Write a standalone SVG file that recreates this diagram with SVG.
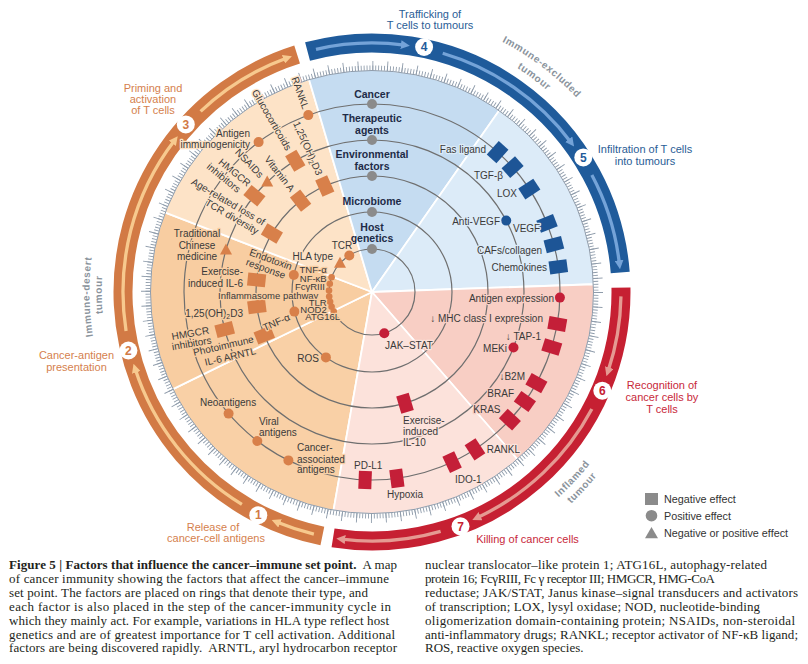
<svg xmlns="http://www.w3.org/2000/svg" width="808" height="664" viewBox="0 0 808 664">
<style>
text{font-family:"Liberation Sans",Arial,sans-serif}
.lb{font-size:10px;fill:#3a3a3a;paint-order:stroke;stroke-width:2.6;stroke-linejoin:round}
.sm{font-size:9.5px}
.k1{stroke:#f9d0a6}.k2{stroke:#f8cda1}.k3{stroke:#fde3c7}.k5{stroke:#dcebf8}.k6{stroke:#f8cec4}.k7{stroke:#fce2db}
.e{text-anchor:end}.m{text-anchor:middle}
.cat{font-size:10.5px;font-weight:bold;fill:#1e2b47;text-anchor:middle}
.ring{fill:none;stroke:#6f6f6f;stroke-width:1.2}
.o{fill:#d8804a}.bl{fill:#1d5596}.rd{fill:#c41f38}.gy{fill:#8b8b8b}
.sep{stroke:#fff;stroke-width:1.8;stroke-linejoin:round}
.band{fill:none;stroke-width:19}
.arw{fill:none;stroke-width:3.3}
.num{font-size:12px;font-weight:bold;text-anchor:middle}
.out{font-size:11px;text-anchor:middle}
.tum{font-size:10px;font-weight:bold;fill:#8a939c;letter-spacing:0.6px;text-anchor:middle}
#caption text{font-family:"Liberation Serif","Times New Roman",serif;font-size:13px;fill:#231f20}
.lg{font-size:10.8px;fill:#333}
</style>
<defs>
<rect id="sq" x="-6.5" y="-9" width="13" height="18"/>
<circle id="dt" r="5"/>
<circle id="sd" r="3.3"/>
<path id="tr" d="M0,-6.5L6,4.5L-6,4.5Z"/>
<marker id="ao" viewBox="0 0 10 10" refX="4" refY="5" markerWidth="9" markerHeight="9" markerUnits="userSpaceOnUse" orient="auto"><path d="M0,0L10,5L0,10z" fill="#f7c98e"/></marker>
<marker id="ab" viewBox="0 0 10 10" refX="4" refY="5" markerWidth="9" markerHeight="9" markerUnits="userSpaceOnUse" orient="auto"><path d="M0,0L10,5L0,10z" fill="#74a3d8"/></marker>
<marker id="ar" viewBox="0 0 10 10" refX="4" refY="5" markerWidth="9" markerHeight="9" markerUnits="userSpaceOnUse" orient="auto"><path d="M0,0L10,5L0,10z" fill="#e59a92"/></marker>
<path id="pie1" d="M454.55,22.32A282,282 0 0 1 608.51,138.41"/>
<path id="pie2" d="M450.06,36.67A267,267 0 0 1 595.92,146.58"/>
<path id="pin1" d="M497.98,539.26A277.5,277.5 0 0 0 627.44,400.43"/>
<path id="pin2" d="M503.89,550.84A290.5,290.5 0 0 0 639.40,405.51"/>
<path id="pid1" d="M108.26,393.24A282.5,282.5 0 0 1 104.89,200.03"/>
<path id="pid2" d="M119.08,387.07A270.2,270.2 0 0 1 117.14,202.25"/>
</defs>

<g id="sectors" class="sep">
<path fill="#f9d0a6" d="M372,292L333.45,510.63A222,222 0 0 1 172.47,389.32Z"/>
<path fill="#f8cda1" d="M372,292L172.47,389.32A222,222 0 0 1 164.75,212.44Z"/>
<path fill="#fde3c7" d="M372,292L164.75,212.44A222,222 0 0 1 308.95,79.14Z"/>
<path fill="#c5dcf1" d="M372,292L308.95,79.14A222,222 0 0 1 499.33,110.15Z"/>
<path fill="#dcebf8" d="M372,292L499.33,110.15A222,222 0 0 1 593.86,284.25Z"/>
<path fill="#f8cec4" d="M372,292L593.86,284.25A222,222 0 0 1 517.65,459.55Z"/>
<path fill="#fce2db" d="M372,292L517.65,459.55A222,222 0 0 1 333.45,510.63Z"/>
</g>

<g id="ticks" fill="none" stroke="#8f9cab">
<circle cx="372" cy="292" r="221.5" stroke-width="1"/>
<circle cx="372" cy="292" r="224" stroke-width="5" stroke-dasharray="0.9 2.0321"/>
<circle cx="372" cy="292" r="226.25" stroke-width="9.5" stroke-dasharray="0.9 13.908"/>
</g>

<g id="bands">
<path class="band" stroke="#d27a45" d="M322.36,536A249,249 0 0 1 297.12,54.52"/>
<path class="band" stroke="#1f5b9b" d="M307.55,51.48A249,249 0 0 1 620.23,272.46"/>
<path class="band" stroke="#c62032" d="M620.96,287.65A249,249 0 0 1 333.05,537.93"/>
<g class="arw" stroke="#f7c98e" marker-end="url(#ao)">
<path d="M313.87,534.12A249,249 0 0 1 276.71,522.05"/>
<path d="M241.9,504.31A249,249 0 0 1 135.19,368.95"/>
<path d="M126.07,330.95A249,249 0 0 1 174.46,140.42"/>
<path d="M200.6,111.38A249,249 0 0 1 286.84,58.02"/>
</g>
<g class="arw" stroke="#74a3d8" marker-end="url(#ab)">
<path d="M315.99,49.38A249,249 0 0 1 404.5,45.13"/>
<path d="M442.72,53.25A249,249 0 0 1 570.86,142.15"/>
<path d="M591.85,175.1A249,249 0 0 1 619.4,263.81"/>
</g>
<g class="arw" stroke="#e59a92" marker-end="url(#ar)">
<path d="M620.96,296.35A249,249 0 0 1 608.13,371.01"/>
<path d="M591.85,408.9A249,249 0 0 1 477.23,517.67"/>
<path d="M440.63,531.35A249,249 0 0 1 341.65,539.14"/>
</g>
</g>

<g id="connectors" class="ring">
<circle cx="372" cy="292" r="43"/>
<circle cx="372" cy="292" r="80"/>
<circle cx="372" cy="292" r="116"/>
<circle cx="372" cy="292" r="152"/>
<circle cx="372" cy="292" r="188"/>
</g>

<g id="steps">
<g id="step1"><circle cx="258.3" cy="515.2" r="9" fill="#fff"/><text class="num" x="258.3" y="519.4" fill="#d27a45">1</text>
<text class="out" fill="#d57f4e"><tspan x="213" y="530.5">Release of</tspan><tspan x="216" y="541.5">cancer-cell antigens</tspan></text></g>
<g id="step2"><circle cx="128.4" cy="350.5" r="9" fill="#fff"/><text class="num" x="128.4" y="354.7" fill="#d27a45">2</text>
<text class="out" fill="#d57f4e"><tspan x="76.5" y="359">Cancer-antigen</tspan><tspan x="76.5" y="370.5">presentation</tspan></text></g>
<g id="step3"><circle cx="185.8" cy="124.4" r="9" fill="#fff"/><text class="num" x="185.8" y="128.6" fill="#d27a45">3</text>
<text class="out" fill="#d57f4e"><tspan x="153" y="92">Priming and</tspan><tspan x="153" y="102.8">activation</tspan><tspan x="153" y="113.6">of T cells</tspan></text></g>
<g id="step4"><circle cx="424.1" cy="47" r="9" fill="#fff"/><text class="num" x="424.1" y="51.2" fill="#1f5b9b">4</text>
<text class="out" fill="#2a5d96"><tspan x="430" y="18">Trafficking of</tspan><tspan x="430" y="29">T cells to tumours</tspan></text></g>
<g id="step5"><circle cx="583.3" cy="157.4" r="9" fill="#fff"/><text class="num" x="583.3" y="161.6" fill="#1f5b9b">5</text>
<text class="out" fill="#2a5d96"><tspan x="645" y="153">Infiltration of T cells</tspan><tspan x="645" y="164.5">into tumours</tspan></text></g>
<g id="step6"><circle cx="602.3" cy="390.7" r="9" fill="#fff"/><text class="num" x="602.3" y="394.9" fill="#c62032">6</text>
<text class="out" fill="#c8283a"><tspan x="662" y="388.5">Recognition of</tspan><tspan x="662" y="400.5">cancer cells by</tspan><tspan x="662" y="413">T cells</tspan></text></g>
<g id="step7"><circle cx="460.5" cy="526.3" r="9" fill="#fff"/><text class="num" x="460.5" y="530.5" fill="#c62032">7</text>
<text class="out" fill="#c8283a" x="527.5" y="543">Killing of cancer cells</text></g>
</g>

<g id="tumour-types">
<text class="tum"><textPath href="#pie1" startOffset="50%">Immune-excluded</textPath></text>
<text class="tum"><textPath href="#pie2" startOffset="50%">tumour</textPath></text>
<text class="tum"><textPath href="#pin1" startOffset="50%">Inflamed</textPath></text>
<text class="tum"><textPath href="#pin2" startOffset="50%">tumour</textPath></text>
<text class="tum"><textPath href="#pid1" startOffset="50%">Immune-desert</textPath></text>
<text class="tum"><textPath href="#pid2" startOffset="50%">tumour</textPath></text>
</g>

<g id="categories">
<g id="cat-cancer"><use href="#dt" class="gy" x="372" y="104"/><text class="cat" x="372" y="97.5">Cancer</text></g>
<g id="cat-therapeutic"><use href="#dt" class="gy" x="372" y="140"/><text class="cat"><tspan x="372" y="122">Therapeutic</tspan><tspan x="372" y="133.5">agents</tspan></text></g>
<g id="cat-environmental"><use href="#dt" class="gy" x="372" y="176"/><text class="cat"><tspan x="372" y="158">Environmental</tspan><tspan x="372" y="169.5">factors</tspan></text></g>
<g id="cat-microbiome"><use href="#dt" class="gy" x="372" y="212"/><text class="cat" x="372" y="205">Microbiome</text></g>
<g id="cat-host"><use href="#dt" class="gy" x="372" y="249"/><text class="cat"><tspan x="372" y="231">Host</tspan><tspan x="372" y="242">genetics</tspan></text></g>
</g>

<g id="factors">
<g id="f-fas"><use href="#sq" class="bl" transform="translate(497.6,152.1) rotate(41.9)"/><text class="lb k5 e" x="486" y="152.5">Fas ligand</text></g>
<g id="f-tgfb"><use href="#sq" class="bl" transform="translate(512.6,167.2) rotate(48.4)"/><text class="lb k5 e" x="503" y="179">TGF-β</text></g>
<g id="f-lox"><use href="#sq" class="bl" transform="translate(529.3,189.1) rotate(56.8)"/><text class="lb k5 e" x="517" y="197">LOX</text></g>
<g id="f-antivegf"><use href="#dt" class="bl" x="506.2" y="220.6"/><text class="lb k5 e" x="500" y="224.5">Anti-VEGF</text></g>
<g id="f-vegf"><use href="#sq" class="bl" transform="translate(547,223.4) rotate(68.6)"/><text class="lb k5" x="513" y="232">VEGF</text></g>
<g id="f-cafs"><use href="#sq" class="bl" transform="translate(553.9,244.6) rotate(75.4)"/><text class="lb k5 e" x="542" y="254">CAFs/collagen</text></g>
<g id="f-chemokines"><use href="#sq" class="bl" transform="translate(558.3,266.8) rotate(82.3)"/><text class="lb k5 e" x="547" y="271">Chemokines</text></g>
<g id="f-antigen-expr"><use href="#dt" class="rd" x="559.9" y="297.6"/><text class="lb k6 e" x="554" y="301.5">Antigen expression</text></g>
<g id="f-mhc"><use href="#sq" class="rd" transform="translate(557.3,324) rotate(99.8)"/><text class="lb k6 e" x="543" y="322">↓ MHC class I expression</text></g>
<g id="f-tap1"><use href="#sq" class="rd" transform="translate(551.8,347) rotate(107)"/><text class="lb k6 e" x="541" y="340">↓ TAP-1</text></g>
<g id="f-meki"><use href="#dt" class="rd" x="513.5" y="347.5"/><text class="lb k6 e" x="507" y="351.5">MEKi</text></g>
<g id="f-b2m"><use href="#sq" class="rd" transform="translate(536.4,383.1) rotate(119)"/><text class="lb k6 e" x="525" y="380">↓B2M</text></g>
<g id="f-braf"><use href="#sq" class="rd" transform="translate(524.9,401.4) rotate(125.6)"/><text class="lb k6 e" x="514" y="396.5">BRAF</text></g>
<g id="f-kras"><use href="#sq" class="rd" transform="translate(509.9,419.7) rotate(132.8)"/><text class="lb k6 e" x="500.5" y="413">KRAS</text></g>
<g id="f-rankl-7"><use href="#sq" class="rd" transform="translate(475,449.3) rotate(146.8)"/><text class="lb k7" x="486.7" y="453">RANKL</text></g>
<g id="f-ido1"><use href="#sq" class="rd" transform="translate(452.1,462.1) rotate(154.8)"/><text class="lb k7" x="455" y="483">IDO-1</text></g>
<g id="f-hypoxia"><use href="#sq" class="rd" transform="translate(396.9,478.4) rotate(172.4)"/><text class="lb k7" x="387" y="498">Hypoxia</text></g>
<g id="f-pdl1"><use href="#sq" class="rd" transform="translate(365.1,479.9) rotate(182.1)"/><text class="lb k7" x="354" y="469">PD-L1</text></g>
<g id="f-exil10"><use href="#sq" class="rd" transform="translate(405,403.2) rotate(163.5)"/><text class="lb k7"><tspan x="403" y="423.5">Exercise-</tspan><tspan x="403" y="435">induced</tspan><tspan x="403" y="446">IL-10</tspan></text></g>
<g id="f-jakstat"><use href="#dt" class="rd" x="384.3" y="333.2"/><text class="lb k7" x="385" y="349">JAK–STAT</text></g>
<g id="f-neo"><use href="#dt" class="o" x="228.6" y="413.6"/><text class="lb k1" x="200" y="405.5">Neoantigens</text></g>
<g id="f-viral"><use href="#dt" class="o" x="257.3" y="441"/><text class="lb k1"><tspan x="259" y="424.5">Viral</tspan><tspan x="259" y="435.5">antigens</tspan></text></g>
<g id="f-caa"><use href="#dt" class="o" x="288.4" y="460.4"/><text class="lb k1"><tspan x="297" y="451">Cancer-</tspan><tspan x="297" y="462.5">associated</tspan><tspan x="297" y="473">antigens</tspan></text></g>
<g id="f-ros"><use href="#dt" class="o" x="325.9" y="357.4"/><text class="lb k1 e" x="319" y="361.5">ROS</text></g>
<g id="f-tcm"><use href="#tr" class="o" x="226" y="249.9"/><text class="lb k2 m"><tspan x="197" y="237">Traditional</tspan><tspan x="197" y="248.5">Chinese</tspan><tspan x="197" y="260">medicine</tspan></text></g>
<g id="f-exil6"><use href="#sq" class="o" transform="translate(256.6,279.9) rotate(276)"/><text class="lb k2 e"><tspan x="243" y="274.5">Exercise-</tspan><tspan x="243" y="287">induced IL-6</tspan></text></g>
<g id="f-vitd-2"><use href="#sq" class="o" transform="translate(256.9,306.7) rotate(262.7)"/><text class="lb k2 e" x="243" y="317">1,25(OH)<tspan font-size="7" dy="2">2</tspan><tspan dy="-2">D3</tspan></text></g>
<g id="f-hmgcr-2"><use href="#sq" class="o" transform="translate(224.7,329.5) rotate(255.7)"/><text class="lb k2" transform="translate(172.3,340.1) rotate(-10)"><tspan x="0" y="0">HMGCR</tspan><tspan x="-1.5" y="10">inhibitors</tspan></text></g>
<g id="f-photo"><use href="#sq" class="o" transform="translate(264.3,335.1) rotate(248.2)"/><text class="lb k2" transform="translate(194.1,356.1) rotate(-13)"><tspan x="0" y="0">Photoimmune</tspan><tspan x="9" y="12">IL-6 ARNTL</tspan></text></g>
<g id="f-tnfa-2"><use href="#dt" class="o" x="294.4" y="311.6"/><text class="lb k2" transform="translate(264.7,331.2) rotate(-24)">TNF-α</text></g>
<g id="f-endotoxin"><use href="#dt" class="o" x="293.8" y="275"/><text class="lb k2" transform="translate(248.8,255) rotate(20)"><tspan x="0" y="0">Endotoxin</tspan><tspan x="0" y="10.5">response</tspan></text></g>
<g id="f-host-cluster">
<use href="#sd" class="o" x="331.6" y="277.3"/><use href="#sd" class="o" x="329.8" y="283.8"/><use href="#sd" class="o" x="329" y="290.5"/><use href="#sd" class="o" x="329.2" y="296.5"/><use href="#sd" class="o" x="330.1" y="301.7"/><use href="#sd" class="o" x="331.6" y="306.7"/><use href="#sd" class="o" x="333.7" y="311.5"/>
<text class="lb sm k2 e" x="326.7" y="273">TNF-α</text>
<text class="lb sm k2 e" x="326.7" y="281.5">NF-κB</text>
<text class="lb sm k2 e" x="325" y="290">FcγRIII</text>
<text class="lb sm k2" x="218" y="298.5">Inflammasome pathway</text>
<text class="lb sm k2 e" x="326.7" y="305.5">TLR</text>
<text class="lb sm k2 e" x="326.7" y="313">NOD2</text>
<text class="lb sm k2 e" x="340" y="320">ATG16L</text>
</g>
<g id="f-tcr"><use href="#dt" class="o" x="349.3" y="255.5"/><text class="lb k3" x="331.7" y="249">TCR</text></g>
<g id="f-hla"><use href="#tr" class="o" x="340" y="263.3"/><text class="lb k3 e" x="333" y="259.5">HLA type</text></g>
<g id="f-rankl-3"><use href="#dt" class="o" x="308.3" y="115.1"/><text class="lb k3 e" transform="translate(302.7,109.7) rotate(70.2)">RANKL</text></g>
<g id="f-antigen-imm"><use href="#dt" class="o" x="258.6" y="142.1"/><text class="lb k3 e"><tspan x="250" y="136.5">Antigen</tspan><tspan x="250" y="147.5">immunogenicity</tspan></text></g>
<g id="f-gluco"><use href="#sq" class="o" transform="translate(295.3,160.8) rotate(329.7)"/><text class="lb k3 e" transform="translate(286,151.2) rotate(59.8)">Glucocorticoids</text></g>
<g id="f-vitd-3"><use href="#sq" class="o" transform="translate(324.8,186) rotate(336)"/><text class="lb k3 e" transform="translate(316.5,176) rotate(66)">1,25(OH)<tspan font-size="7" dy="2">2</tspan><tspan dy="-2">D3</tspan></text></g>
<g id="f-vita"><use href="#sq" class="o" transform="translate(300.6,200.6) rotate(322)"/><text class="lb k3 e" transform="translate(289.8,192.5) rotate(52)">Vitamin A</text></g>
<g id="f-nsaids"><use href="#tr" class="o" x="267.2" y="181.9"/><text class="lb k3 e" transform="translate(259.1,178.5) rotate(46.4)">NSAIDs</text></g>
<g id="f-hmgcr-3"><use href="#sq" class="o" transform="translate(254.4,195.7) rotate(309.3)"/><text class="lb k3 e" transform="translate(247.1,187.2) rotate(39.3)"><tspan x="0" y="0">HMGCR</tspan><tspan x="-4" y="11">inhibitors</tspan></text></g>
<g id="f-age"><use href="#sq" class="o" transform="translate(271.9,233.5) rotate(300.3)"/><text class="lb k3 e" transform="translate(262.5,225.7) rotate(30.3)"><tspan x="0" y="0">Age-related loss of</tspan><tspan x="-1" y="11">TCR diversity</tspan></text></g>
</g>

<g id="legend">
<rect x="645" y="493" width="13" height="12" class="gy"/><text class="lg" x="664" y="503">Negative effect</text>
<circle cx="651.5" cy="515.7" r="5.8" class="gy"/><text class="lg" x="664" y="519.5">Positive effect</text>
<path d="M651.5,527L658,538.3L645,538.3Z" class="gy"/><text class="lg" x="664" y="536.5">Negative or positive effect</text>
</g>

<g id="caption">
<text x="9" y="569" textLength="388"><tspan font-weight="bold">Figure 5 | Factors that influence the cancer–immune set point.</tspan>&#160; A map</text>
<text x="9" y="582.9" textLength="380">of cancer immunity showing the factors that affect the cancer–immune</text>
<text x="9" y="596.8" textLength="359">set point. The factors are placed on rings that denote their type, and</text>
<text x="9" y="610.7" textLength="382">each factor is also placed in the step of the cancer-immunity cycle in</text>
<text x="9" y="624.6" textLength="380">which they mainly act. For example, variations in HLA type reflect host</text>
<text x="9" y="638.5" textLength="386">genetics and are of greatest importance for T cell activation. Additional</text>
<text x="9" y="652.4" textLength="388">factors are being discovered rapidly.&#160; ARNTL, aryl hydrocarbon receptor</text>
<text x="425" y="569" textLength="342">nuclear translocator–like protein 1; ATG16L, autophagy-related</text>
<text x="425" y="582.9" textLength="290">protein 16; FcγRIII, Fc γ receptor III; HMGCR, HMG-CoA</text>
<text x="425" y="596.8" textLength="373">reductase; JAK/STAT, Janus kinase–signal transducers and activators</text>
<text x="425" y="610.7" textLength="335">of transcription; LOX, lysyl oxidase; NOD, nucleotide-binding</text>
<text x="425" y="624.6" textLength="370">oligomerization domain-containing protein; NSAIDs, non-steroidal</text>
<text x="425" y="638.5" textLength="373">anti-inflammatory drugs; RANKL; receptor activator of NF-κB ligand;</text>
<text x="425" y="652.4">ROS, reactive oxygen species.</text>
</g>
</svg>
